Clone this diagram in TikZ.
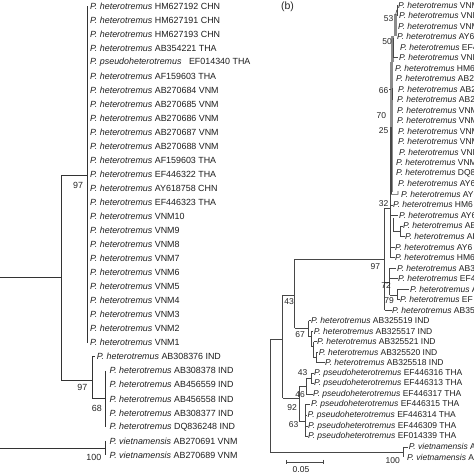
\documentclass[tikz,border=0pt]{standalone}
\usepackage{fontspec}
\setmainfont{Liberation Sans}
\tikzset{
  lleaf/.style={anchor=west, inner sep=0pt, font=\fontsize{8.9}{10}\selectfont, text=black!88},
  rleaf/.style={anchor=west, inner sep=0pt, font=\fontsize{8.5}{9}\selectfont, text=black!88},
  lboot/.style={anchor=east, inner sep=0pt, font=\fontsize{8.9}{10}\selectfont, text=black!85},
  rboot/.style={anchor=east, inner sep=0pt, font=\fontsize{8.5}{9}\selectfont, text=black!85},
  lbr/.style={draw=black!80, line width=0.8pt},
  rbr/.style={draw=black!72, line width=0.6pt},
  gbar/.style={draw=black!45, line width=2.8pt},
}
\begin{document}
\begin{tikzpicture}[x=1pt,y=-1pt]
\useasboundingbox (0,0) rectangle (474,474);
\fill[white] (0,0) rectangle (474,474);
\clip (0,0) rectangle (474,474);

% ---------------- panel (a) ----------------
\foreach \i/\x/\s/\t in {
 0/90/heterotremus/HM627192 CHN, 1/90/heterotremus/HM627191 CHN,
 2/90/heterotremus/HM627193 CHN, 3/90/heterotremus/AB354221 THA,
 5/90/heterotremus/AF159603 THA, 6/90/heterotremus/AB270684 VNM,
 7/90/heterotremus/AB270685 VNM, 8/90/heterotremus/AB270686 VNM,
 9/90/heterotremus/AB270687 VNM, 10/90/heterotremus/AB270688 VNM,
 11/90/heterotremus/AF159603 THA, 12/90/heterotremus/EF446322 THA,
 13/90/heterotremus/AY618758 CHN, 14/90/heterotremus/EF446323 THA,
 15/90/heterotremus/VNM10, 16/90/heterotremus/VNM9, 17/90/heterotremus/VNM8,
 18/90/heterotremus/VNM7, 19/90/heterotremus/VNM6, 20/90/heterotremus/VNM5,
 21/90/heterotremus/VNM4, 22/90/heterotremus/VNM3, 23/90/heterotremus/VNM2,
 24/90/heterotremus/VNM1, 25/96.7/heterotremus/AB308376 IND,
 26/109.3/heterotremus/AB308378 IND, 27/109.3/heterotremus/AB456559 IND,
 28/109.3/heterotremus/AB456558 IND, 29/109.3/heterotremus/AB308377 IND,
 30/109.3/heterotremus/DQ836248 IND, 31/109.3/vietnamensis/AB270691 VNM,
 32/109.3/vietnamensis/AB270689 VNM}
 \node[lleaf] (L\i) at (\x,{6+14.03*\i}) {\textit{P. \s} \t};
\node[lleaf] (L4) at (90,{6+14.03*4}) {\textit{P. pseudoheterotremus}\hspace{5pt} EF014340 THA};

\coordinate (lR1) at (0,277);
\coordinate (l61) at (61,277);
\coordinate (lBig) at (87,175);
\coordinate (l92) at (92,380);
\coordinate (lInd) at (105,398.8);
\coordinate (lR2) at (0,448);
\coordinate (lViet) at (105,448);

\draw[lbr] (lR1) -- (l61);
\draw[lbr] (l61 |- lBig) -- (l61 |- l92);
\draw[lbr] (l61 |- lBig) -- (lBig);
\draw[lbr] (lBig |- L0) -- (lBig |- L24);
\draw[lbr] (l61 |- l92) -- (l92);
\draw[lbr] (l92 |- L25) -- (l92 |- lInd);
\draw[lbr] (l92 |- L25) -- ([xshift=-1.5pt]L25.west);
\draw[lbr] (l92 |- lInd) -- (lInd);
\draw[lbr] (lInd |- L26) -- (lInd |- L30);
\draw[lbr] (lR2) -- (lViet);
\draw[lbr] (lViet |- L31) -- (lViet |- L32);

\node[lboot] (la97) at (83.3,185) {97};
\node[lboot] (lb97) at (87.5,387) {97};
\node[lboot] (l68) at (102,408) {68};
\node[lboot] (l100) at (101.5,457) {100};

% ---------------- panel (b) ----------------
\node[inner sep=0pt, font=\fontsize{10.5}{12}\selectfont, text=black!85] (blab) at (287.5,6.5) {(b)};

\foreach \i/\x/\s/\t in {
 1/398/heterotremus/VNM, 2/399/heterotremus/VNM, 3/398/heterotremus/VNM,
 4/397/heterotremus/AY6, 5/400/heterotremus/EF4, 6/399/heterotremus/VNM,
 7/395/heterotremus/HM6, 8/396/heterotremus/AB2, 9/398/heterotremus/AB2,
 10/397/heterotremus/AB2, 11/397/heterotremus/VNM, 12/397/heterotremus/VNM,
 13/398/heterotremus/VNM, 14/398/heterotremus/VNM, 15/399/heterotremus/VNM,
 16/396/heterotremus/VNM, 17/396/heterotremus/DQ8, 18/398/heterotremus/AY6,
 19/401/heterotremus/AY6, 20/393/heterotremus/HM6, 21/399/heterotremus/AY6,
 22/403/heterotremus/AB, 23/405/heterotremus/AB, 24/395/heterotremus/AY6,
 25/395/heterotremus/HM6, 26/397/heterotremus/AB3, 27/398/heterotremus/EF4,
 28/410/heterotremus/AB, 29/400/heterotremus/EF, 30/392/heterotremus/AB35,
 31/311/heterotremus/AB325519 IND, 32/313.7/heterotremus/AB325517 IND,
 33/317/heterotremus/AB325521 IND, 34/318.7/heterotremus/AB325520 IND,
 35/325/heterotremus/AB325518 IND,
 36/314/pseudoheterotremus/EF446316 THA, 37/314/pseudoheterotremus/EF446313 THA,
 38/313/pseudoheterotremus/EF446317 THA, 39/311/pseudoheterotremus/EF446315 THA,
 40/307.5/pseudoheterotremus/EF446314 THA, 41/308/pseudoheterotremus/EF446309 THA,
 42/308/pseudoheterotremus/EF014339 THA,
 43/408.7/vietnamensis/AB, 44/407/vietnamensis/AB}
 \node[rleaf] (R\i) at (\x,{5+10.52*(\i-1)}) {\textit{P. \s} \t};

% main nodes
\coordinate (rR) at (270,339);
\coordinate (rA) at (282.7,339);
\coordinate (rB) at (294.7,295);
\coordinate (r92) at (299,398);
\coordinate (r97) at (384.5,259);
\coordinate (r67) at (308.5,328);
\coordinate (rV) at (403,452.5);

\draw[rbr] (rR) -- (rA);
\draw[rbr] (rR) -- (rR |- rV) -- (rV);
\draw[rbr] (rA |- rB) -- (rA |- r92);
\draw[rbr] (rA |- rB) -- (rB);
\draw[rbr] (rA |- r92) -- (r92);
\draw[rbr] (rB |- r97) -- (rB |- r67);
\draw[rbr] (rB |- r97) -- (r97);
\draw[rbr] (rB |- r67) -- (r67);

% vietnamensis
\draw[rbr] (rV |- R43) -- (rV |- R44);
\draw[rbr] (rV |- R43) -- ([xshift=-1pt]R43.west);

% node 97
\coordinate (r32) at (390,208);
\coordinate (r72) at (389.5,282);
\coordinate (r79) at (397,295);
\draw[rbr] (r97 |- r32) -- (r97 |- R30);
\draw[rbr] (r97 |- r32) -- (r32);
\draw[rbr] (r97 |- r72) -- (r72);
\draw[rbr] (r97 |- R30) -- ([xshift=-0.5pt]R30.west);
\draw[rbr] (r72 |- R26) -- (r72 |- r79);
\draw[rbr] (r72 |- R26) -- ([xshift=-0.8pt]R26.west);
\draw[rbr] (r72 |- R27) -- ([xshift=-0.5pt]R27.west);
\draw[rbr] (r72 |- r79) -- (r79);
\draw[rbr] (r79 |- R28) -- (r79 |- R29);
\draw[rbr] (r79 |- R28) -- ([xshift=-0.8pt]R28.west);
\draw[rbr] (r79 |- R29) -- ([xshift=-0.5pt]R29.west);

% node 32 and the dense clade
\coordinate (r25) at (391,127);
\coordinate (r70) at (391.5,112);
\coordinate (r66) at (392,88);
\coordinate (r50) at (393,38);
\coordinate (r53) at (395.5,15);
\coordinate (r2223) at (400,231);
\draw[gbar] (391.8,62) -- (391.8,192);
\draw[gbar] (392.8,36) -- (392.8,62);
\draw[gbar] (395.2,14) -- (395.2,36);
\draw[rbr] (r32 |- r25) -- (r32 |- R25);
\draw[rbr] (r25) -- (r25 |- R19);
\draw[rbr] (r66) -- (r66 |- R10);
\draw[rbr] (r50) -- (r50 |- R6);
\draw[rbr] (396.8,5) -- (396.8,15.5);
\draw[rbr] (r53) -- (396.8,10);
\draw[rbr] (r32 |- R20) -- ([xshift=-0.5pt]R20.west);
\draw[rbr] (r32 |- R21) -- ([xshift=-1.5pt]R21.west);
\draw[rbr] (393,218) -- (393,231) -- (r2223);
\draw[rbr] (r2223 |- R22) -- (r2223 |- R23);
\draw[rbr] (r2223 |- R22) -- ([xshift=-0.5pt]R22.west);
\draw[rbr] (r2223 |- R23) -- ([xshift=-0.5pt]R23.west);
\draw[rbr] (r32 |- R24) -- ([xshift=-0.5pt]R24.west);
\draw[rbr] (r32 |- R25) -- ([xshift=-0.5pt]R25.west);
\draw[rbr] (r50 |- R6) -- ([xshift=-1.5pt]R6.west);
\draw[rbr] (389,89.2) -- (391,89.2);
\draw[rbr] (r25 |- R19) -- (398,194.4) -- (398,191);

% node 67 ladder
\coordinate (r67a) at (311,336);
\coordinate (r67b) at (313.5,346);
\coordinate (r67c) at (316,357);
\draw[rbr] (r67 |- R31) -- (r67 |- r67a) -- (r67a);
\draw[rbr] (r67 |- R31) -- ([xshift=-0.5pt]R31.west);
\draw[rbr] (r67a |- R32) -- (r67a |- r67b) -- (r67b);
\draw[rbr] (r67a |- R32) -- ([xshift=-0.5pt]R32.west);
\draw[rbr] (r67b |- R33) -- (r67b |- r67c) -- (r67c);
\draw[rbr] (r67b |- R33) -- ([xshift=-0.5pt]R33.west);
\draw[rbr] (r67c |- R34) -- (r67c |- R35);
\draw[rbr] (r67c |- R34) -- ([xshift=-0.5pt]R34.west);
\draw[rbr] (r67c |- R35) -- ([xshift=-0.5pt]R35.west);

% pseudoheterotremus clade
\coordinate (r46) at (306,386);
\coordinate (r63) at (305,421);
\coordinate (r43p) at (311,378.5);
\draw[rbr] (r92 |- r46) -- (r92 |- r63);
\draw[rbr] (r92 |- r46) -- (r46);
\draw[rbr] (r92 |- r63) -- (r63);
\draw[rbr] (r46 |- r43p) -- (r46 |- R38);
\draw[rbr] (r46 |- r43p) -- (r43p);
\draw[rbr] (r46 |- R38) -- ([xshift=-0.5pt]R38.west);
\draw[rbr] (r43p |- R36) -- (r43p |- R37);
\draw[rbr] (r43p |- R36) -- ([xshift=-0.5pt]R36.west);
\draw[rbr] (r43p |- R37) -- ([xshift=-0.5pt]R37.west);
\draw[rbr] (r63 |- R39) -- (r63 |- R42);
\draw[rbr] (r63 |- R39) -- ([xshift=-1pt]R39.west);
\draw[rbr] (r63 |- R40) -- ([xshift=-0.5pt]R40.west);
\draw[rbr] (r63 |- R41) -- ([xshift=-0.5pt]R41.west);
\draw[rbr] (r63 |- R42) -- ([xshift=-0.5pt]R42.west);

% bootstrap values
\node[rboot] (b53) at (393.5,18.5) {53};
\node[rboot] (b50) at (392,41.5) {50};
\node[rboot] (b66) at (388.5,90.5) {66};
\node[rboot] (b70) at (386.3,116) {70};
\node[rboot] (b25) at (388.5,131) {25};
\node[rboot] (b32) at (388.5,204) {32};
\node[rboot] (b97) at (380.3,267) {97};
\node[rboot] (b72) at (391,286) {72};
\node[rboot] (b79) at (394,300.5) {79};
\node[rboot] (b43) at (294,302) {43};
\node[rboot] (b67) at (305,335) {67};
\node[rboot] (b43p) at (307.5,373) {43};
\node[rboot] (b46) at (305,394.5) {46};
\node[rboot] (b92) at (297,408) {92};
\node[rboot] (b63) at (298.5,425) {63};
\node[rboot] (b100) at (400,461) {100};

% scale bar
\coordinate (sb1) at (286.3,462);
\coordinate (sb2) at (323,462);
\draw[rbr] (sb1) -- (sb2);
\draw[rbr] ([yshift=2.2pt]sb1) -- ([yshift=-2.2pt]sb1);
\draw[rbr] ([yshift=2.2pt]sb2) -- ([yshift=-2.2pt]sb2);
\node[rleaf, anchor=center] (sbl) at (301,469.5) {0.05};
\end{tikzpicture}
\end{document}
